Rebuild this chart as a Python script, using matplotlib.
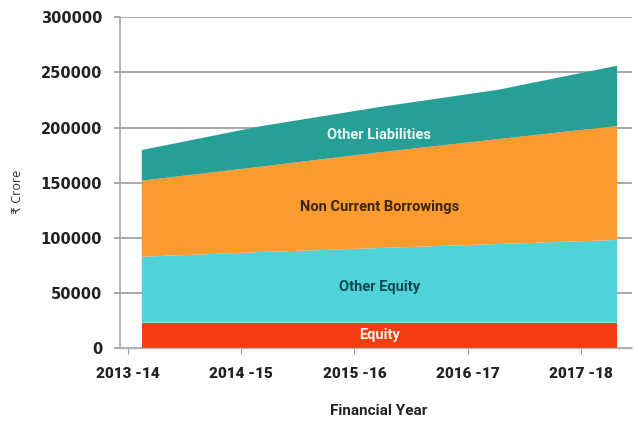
import numpy as np
import matplotlib
matplotlib.use("Agg")
import matplotlib.pyplot as plt

years = ["2013 -14", "2014 -15", "2015 -16", "2016 -17", "2017 -18"]
equity = [23000, 23000, 23000, 23000, 23000]
other_equity = [59800, 64000, 67700, 71300, 75000]
non_current_borrowings = [69000, 77500, 86800, 95200, 103400]
other_liabilities = [27800, 36700, 41100, 44800, 54700]
series_names = ["Equity", "Other Equity", "Non Current Borrowings", "Other Liabilities"]
yticks = [0, 50000, 100000, 150000, 200000, 250000, 300000]

colors = ["#F43E10", "#4FD2D8", "#FB9B2E", "#26A097"]
text_colors = ["#FFF1EA", "#0E4752", "#3E230C", "#E6F5F2"]
label_y = [11800, 55300, 127900, 193200]

fig = plt.figure(figsize=(6.34, 4.21), dpi=100)
ax = fig.add_axes([0.189, 0.1734, 0.808, 0.7855])

x = np.arange(len(years))
ax.stackplot(x, equity, other_equity, non_current_borrowings, other_liabilities,
             colors=colors, linewidth=0, zorder=2)

ax.set_ylim(0, 300000)
ax.set_xlim(-0.185, 4.126)
ax.set_yticks(yticks)
ax.set_yticklabels([str(v) for v in yticks])
ax.yaxis.grid(True, color="#9a9a9a", linewidth=1.2, zorder=0)
ax.set_axisbelow(True)

tick_pos = -0.118 + np.arange(len(years)) * 0.9537
ax.set_xticks(tick_pos)
ax.set_xticklabels(years)

for lbl in ax.get_yticklabels():
    lbl.set_fontfamily("DejaVu Sans")
    lbl.set_fontweight("bold")
    lbl.set_fontsize(10.5)
    lbl.set_color("#222222")
for lbl in ax.get_xticklabels():
    lbl.set_fontfamily("Roboto")
    lbl.set_fontweight("black")
    lbl.set_fontsize(11)
    lbl.set_color("#222222")

ax.tick_params(axis="y", length=4.3, width=1.2, color="#9a9a9a", pad=8.5)
ax.tick_params(axis="x", length=4, color="#9a9a9a", pad=10, direction="out")

for s in ["top", "right"]:
    ax.spines[s].set_visible(False)
ax.spines["left"].set_color("#a8a8a8")
ax.spines["left"].set_linewidth(1.2)
ax.spines["bottom"].set_color("#b5b5b5")
ax.spines["bottom"].set_linewidth(1.0)

for name, yv, tc in zip(series_names, label_y, text_colors):
    ax.text(2.0, yv, name, ha="center", va="center", color=tc,
            fontsize=10.5, fontfamily="Roboto", fontweight="bold", zorder=5)

fig.text(379 / 634, 1 - 411 / 421, "Financial Year", ha="center", va="center",
         fontsize=11, fontfamily="Roboto", fontweight="bold", color="#222222")
fig.text(17 / 634, 1 - 192 / 421, "₹ Crore", ha="center", va="center", rotation=90,
         fontsize=9, family=["Open Sans", "DejaVu Sans"], color="#333333")

fig.savefig("out.png", dpi=100)
